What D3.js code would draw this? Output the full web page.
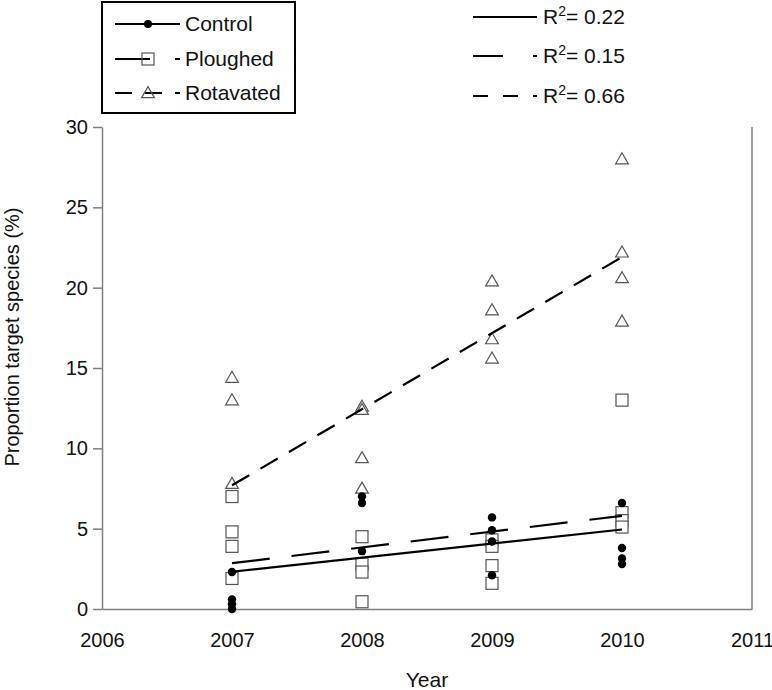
<!DOCTYPE html>
<html>
<head>
<meta charset="utf-8">
<script src="https://cdn.jsdelivr.net/npm/d3@7"></script>
<style>
  body { margin: 0; background: #fff; }
  svg { display: block; font-family: "Liberation Sans", Arial, sans-serif; }
</style>
</head>
<body>
<svg id="chart" width="772" height="690"></svg>
<script>
// data
const years = [2007, 2008, 2009, 2010];
const controlVals = [
    [2.3, 0.6, 0.3, 0.0],
    [7.0, 6.6, 3.6],
    [5.7, 4.9, 4.2, 2.1],
    [6.6, 3.8, 3.15, 2.8]
];
const ploughedVals = [
    [7.0, 4.8, 3.9, 1.9],
    [4.5, 2.8, 2.3, 0.45],
    [4.3, 3.9, 2.7, 1.6],
    [13.0, 6.0, 5.5, 5.1]
];
const rotavatedVals = [
    [14.4, 13.0, 7.8],
    [12.6, 12.4, 9.4, 7.5],
    [20.4, 18.6, 16.8, 15.6],
    [28.0, 22.2, 20.6, 17.9]
];
// fitted lines: value at 2007 and at 2010
const controlFit = [2.32, 4.95];
const ploughedFit = [2.85, 5.8];
const rotavatedFit = [7.7, 21.9];
const seriesNames = ["Control", "Ploughed", "Rotavated"];
const rSquared = ["0.22", "0.15", "0.66"];
const xTicks = [2006, 2007, 2008, 2009, 2010, 2011];
const yTicks = [0, 5, 10, 15, 20, 25, 30];

const svg = d3.select("#chart");
const axisCol = "#7f7f7f";
const markCol = "#555";

const x = d3.scaleLinear().domain([2006, 2011]).range([102, 752]);
const y = d3.scaleLinear().domain([0, 30]).range([609, 127]);

// left axis
const yAxis = svg.append("g")
    .attr("transform", "translate(102,0)")
    .call(d3.axisLeft(y).tickValues(yTicks).tickSize(9).tickPadding(5).tickSizeOuter(0));
yAxis.select(".domain").attr("stroke", axisCol).attr("stroke-width", 1.5);
yAxis.selectAll(".tick line").attr("stroke", axisCol).attr("stroke-width", 1.5);
yAxis.selectAll(".tick text")
    .attr("font-size", 20)
    .attr("font-family", "Liberation Sans, Arial, sans-serif")
    .attr("fill", "#111");

// bottom axis
const xAxis = svg.append("g")
    .attr("transform", "translate(0,609)")
    .call(d3.axisBottom(x).tickValues(xTicks).tickFormat(d3.format("d")).tickSize(0).tickPadding(24).tickSizeOuter(0));
xAxis.select(".domain").attr("stroke", axisCol).attr("stroke-width", 1.5);
xAxis.selectAll(".tick text")
    .attr("font-size", 20)
    .attr("font-family", "Liberation Sans, Arial, sans-serif")
    .attr("fill", "#111");

// right frame line
svg.append("line")
    .attr("x1", x(2011)).attr("x2", x(2011))
    .attr("y1", y(30)).attr("y2", y(0))
    .attr("stroke", axisCol).attr("stroke-width", 1.5);

// axis titles
svg.append("text")
    .attr("x", (x(2006) + x(2011)) / 2)
    .attr("y", 687)
    .attr("text-anchor", "middle")
    .attr("font-size", 21)
    .attr("fill", "#111")
    .text("Year");

svg.append("text")
    .attr("transform", "translate(19,337) rotate(-90)")
    .attr("text-anchor", "middle")
    .attr("font-size", 20)
    .attr("fill", "#111")
    .text("Proportion target species (%)");

// flatten a series into points
function toPoints(vals) {
    let pts = [];
    vals.forEach((arr, i) => arr.forEach(v => pts.push({ year: years[i], v: v })));
    return pts;
}

const triPath = d3.symbol().type(d3.symbolTriangle).size(70);

// fitted lines
const fitLine = d3.line().x(d => x(d[0])).y(d => y(d[1]));
function drawFit(fit, dash) {
    svg.append("path")
        .attr("d", fitLine([[years[0], fit[0]], [years[years.length - 1], fit[1]]]))
        .attr("fill", "none")
        .attr("stroke", "#000")
        .attr("stroke-width", 2.2)
        .attr("stroke-dasharray", dash);
}

// squares
svg.append("g").selectAll("rect")
    .data(toPoints(ploughedVals))
    .enter()
    .append("rect")
    .attr("x", d => x(d.year) - 6)
    .attr("y", d => y(d.v) - 6)
    .attr("width", 12)
    .attr("height", 12)
    .attr("fill", "#fff")
    .attr("stroke", markCol)
    .attr("stroke-width", 1.2);

// triangles
svg.append("g").selectAll("path")
    .data(toPoints(rotavatedVals))
    .enter()
    .append("path")
    .attr("d", triPath)
    .attr("transform", d => `translate(${x(d.year)},${y(d.v) + 1})`)
    .attr("fill", "#fff")
    .attr("stroke", markCol)
    .attr("stroke-width", 1.2);

drawFit(controlFit, null);
drawFit(ploughedFit, "38,22");
drawFit(rotavatedFit, "20,13");

// circles
svg.append("g").selectAll("circle")
    .data(toPoints(controlVals))
    .enter()
    .append("circle")
    .attr("cx", d => x(d.year))
    .attr("cy", d => y(d.v))
    .attr("r", 4.2)
    .attr("fill", "#000");

// legend box
const legend = svg.append("g");
legend.append("rect")
    .attr("x", 102).attr("y", 2)
    .attr("width", 193).attr("height", 111)
    .attr("fill", "#fff")
    .attr("stroke", "#000")
    .attr("stroke-width", 2);

const legY = [24, 59, 93];
const legDash = [null, "35,25", "17,13"];
seriesNames.forEach((name, i) => {
    const g = legend.append("g").attr("transform", `translate(0,${legY[i]})`);
    g.append("line")
        .attr("x1", 115).attr("x2", 180)
        .attr("stroke", "#000")
        .attr("stroke-width", 2)
        .attr("stroke-dasharray", legDash[i]);
    if (i === 0) {
        g.append("circle").attr("cx", 148).attr("r", 4).attr("fill", "#000");
    } else if (i === 1) {
        g.append("rect").attr("x", 142).attr("y", -6).attr("width", 12).attr("height", 12)
            .attr("fill", "none").attr("stroke", markCol).attr("stroke-width", 1.2);
    } else {
        g.append("path").attr("d", triPath).attr("transform", "translate(148,1)")
            .attr("fill", "none").attr("stroke", markCol).attr("stroke-width", 1.2);
    }
    g.append("text")
        .attr("x", 185).attr("y", 7)
        .attr("font-size", 21)
        .attr("fill", "#111")
        .text(name);
});

// R squared legend
const rY = [17, 56, 96];
const rDash = [null, "30,30", "15,15"];
rSquared.forEach((r, i) => {
    const g = svg.append("g").attr("transform", `translate(0,${rY[i]})`);
    g.append("line")
        .attr("x1", 473).attr("x2", 537)
        .attr("stroke", "#000")
        .attr("stroke-width", 2)
        .attr("stroke-dasharray", rDash[i]);
    const t = g.append("text")
        .attr("x", 543).attr("y", 7)
        .attr("font-size", 21)
        .attr("fill", "#111");
    t.append("tspan").text("R");
    t.append("tspan").attr("font-size", 14).attr("dy", -8).text("2");
    t.append("tspan").attr("dy", 8).text("= " + r);
});
</script>
</body>
</html>
